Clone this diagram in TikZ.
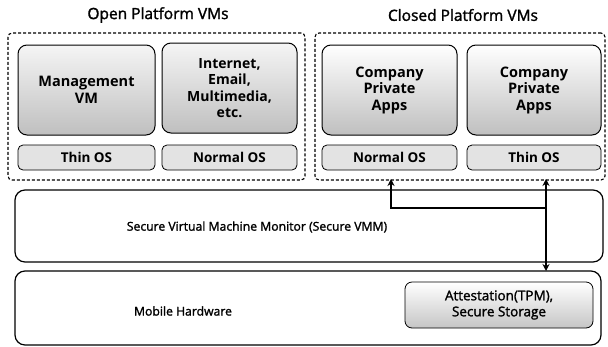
\documentclass[tikz,border=0pt]{standalone}
\usepackage{fontspec}
\setmainfont{Open Sans}
\newfontfamily\medfont{Open Sans}[FakeBold=1.6]
\usetikzlibrary{arrows.meta}
\begin{document}
\begin{tikzpicture}[x=1pt,y=-1pt,
  frame/.style={draw,line width=1.1pt,dash pattern=on 3pt off 2pt,rounded corners=4pt},
  appbox/.style={draw,line width=1pt,rounded corners=9pt,top color=gray!8,bottom color=gray!50,
    align=center,font=\bfseries\fontsize{14.5}{16.5}\selectfont,inner sep=0pt},
  osbox/.style={draw,line width=0.8pt,rounded corners=5pt,fill=gray!22,
    font=\bfseries\fontsize{13.5}{15}\selectfont,inner sep=0pt},
  layer/.style={draw,line width=1.2pt,rounded corners=10pt,inner sep=0pt},
  hwbox/.style={draw,line width=0.8pt,rounded corners=7pt,top color=white,bottom color=gray!45,
    align=center,font=\medfont\fontsize{13.5}{16}\selectfont,inner sep=0pt},
  title/.style={font=\medfont\fontsize{15.5}{17}\selectfont},
  label/.style={font=\medfont\fontsize{12.2}{14}\selectfont},
  link/.style={line width=1.4pt,-{Stealth[length=7pt,width=7pt]}}]
\useasboundingbox (0,0) rectangle (608,346);

% group frames
\node[frame,minimum width=297pt,minimum height=147pt] (open) at (156.5,106.5) {};
\node[frame,minimum width=290pt,minimum height=147pt] (closed) at (460,106.5) {};
\node[title] (opent) at (158,15) {Open Platform VMs};
\node[title] (closedt) at (463,15) {Closed Platform VMs};

% open platform VMs
\node[appbox,minimum width=137pt,minimum height=90pt] (mgmt) at (86.5,90) {Management\\VM};
\node[appbox,minimum width=135pt,minimum height=90pt] (inet) at (229.5,88) {};
\node[align=center,font=\bfseries\fontsize{14}{16.5}\selectfont] (inett) at (inet) {Internet,\\Email,\\Multimedia,\\etc.};
\node[osbox,minimum width=137pt,minimum height=25pt] (thin1) at (86.5,157.5) {Thin OS};
\node[osbox,minimum width=135pt,minimum height=25pt] (norm1) at (229.5,157.5) {Normal OS};

% closed platform VMs
\node[appbox,top color=white,minimum width=135pt,minimum height=90pt] (comp1) at (389.5,90) {Company\\Private\\Apps};
\node[appbox,top color=white,minimum width=134pt,minimum height=90pt] (comp2) at (534,90) {Company\\Private\\Apps};
\node[osbox,minimum width=135pt,minimum height=25pt] (norm2) at (389.5,157.5) {Normal OS};
\node[osbox,minimum width=134pt,minimum height=25pt] (thin2) at (534,157.5) {Thin OS};

% lower layers
\node[layer,minimum width=588pt,minimum height=72pt] (vmm) at (309,226) {};
\node[label] (vmmt) at (257,227) {Secure Virtual Machine Monitor (Secure VMM)};
\node[layer,minimum width=586pt,minimum height=74pt] (hw) at (308,308) {};
\node[label] (hwt) at (183,311) {Mobile Hardware};
\node[hwbox,minimum width=188pt,minimum height=46pt] (tpm) at (499,305) {Attestation(TPM),\\Secure Storage};

% connectors
\coordinate (up1) at (391,179);
\coordinate (up2) at (546,179);
\coordinate (down2) at (546,271);
\coordinate (bend) at (546,208);
\draw[link,{Stealth[length=7pt,width=7pt]}-{Stealth[length=7pt,width=7pt]}] (up2) -- (down2);
\draw[link] (bend) -| (up1);
\end{tikzpicture}
\end{document}
